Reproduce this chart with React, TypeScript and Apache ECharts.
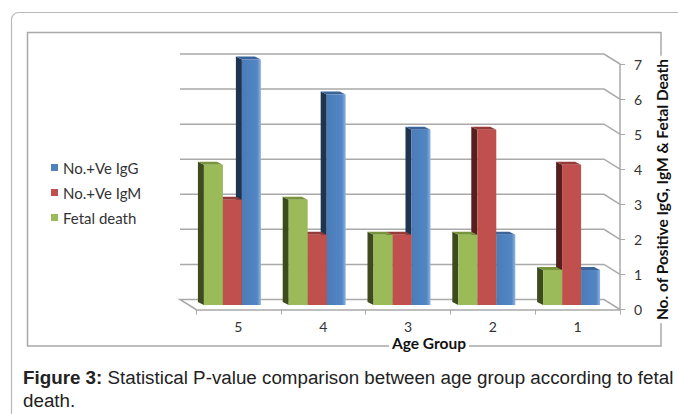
import React, { useEffect, useRef } from "react";
import * as echarts from "echarts";

const categories = ["5", "4", "3", "2", "1"];
const igG = [7, 6, 5, 2, 1];
const igM = [3, 2, 2, 5, 4];
const fetalDeath = [4, 3, 2, 2, 1];
const yTicks = [0, 1, 2, 3, 4, 5, 6, 7];
const seriesNames = ["No.+Ve IgG", "No.+Ve IgM", "Fetal death"];
const xTitle = "Age Group";
const yTitle = "No. of Positive IgG, IgM & Fetal Death";
const captionBold = "Figure 3:";
const captionLine1 = " Statistical P-value comparison between age group according to fetal";
const captionLine2 = "death.";

const BACK_DX = -16;
const BACK_DY = -10;
const BAR_DX = -6;
const BAR_DY = -4.5;
const SIDE_DX = -6;
const SIDE_DY = -3;
const FONT = "Lato, 'Open Sans', sans-serif";
const CAP_FONT = "'Liberation Sans', Arial, sans-serif";

function barRenderer(slot: number, front: any, side: string, top: string) {
  return (params: any, api: any) => {
    const ci = api.value(0);
    const v = api.value(1);
    const base = api.coord([ci, 0]);
    const tp = api.coord([ci, v]);
    const bw = api.size([1, 0])[0] * 0.224;
    const cx = base[0] + BAR_DX + slot * bw;
    const x0 = cx - bw / 2;
    const x1 = cx + bw / 2;
    const yb = base[1] + BAR_DY;
    const yt = tp[1] + BAR_DY;
    return {
      type: "group",
      children: [
        {
          type: "polygon",
          shape: { points: [[x0, yb], [x0 + SIDE_DX, yb + SIDE_DY], [x0 + SIDE_DX, yt + SIDE_DY], [x0, yt]] },
          style: { fill: side },
        },
        {
          type: "polygon",
          shape: { points: [[x0, yt], [x0 + SIDE_DX, yt + SIDE_DY], [x1 + SIDE_DX, yt + SIDE_DY], [x1, yt]] },
          style: { fill: top },
        },
        {
          type: "rect",
          shape: { x: x0, y: yt, width: bw, height: yb - yt },
          style: { fill: front },
        },
      ],
    };
  };
}

function gridRenderer(params: any, api: any) {
  const cs = params.coordSys;
  const t = api.value(1);
  const y = api.coord([0, t])[1];
  const x0 = cs.x;
  const x1 = cs.x + cs.width;
  const pts =
    t === 0
      ? [[x0, y], [x0 + BACK_DX, y + BACK_DY], [x1 + BACK_DX, y + BACK_DY], [x1, y]]
      : [[x0 + BACK_DX, y + BACK_DY], [x1 + BACK_DX, y + BACK_DY], [x1, y]];
  return {
    type: "polyline",
    shape: { points: pts },
    style: { stroke: "#a9a9a9", lineWidth: 1.5, fill: "none" },
  };
}

function grad(c1: string, c2: string, c3: string) {
  return new echarts.graphic.LinearGradient(0, 0, 1, 0, [
    { offset: 0, color: c1 },
    { offset: 0.8, color: c2 },
    { offset: 1, color: c3 },
  ]);
}

export default function App() {
  const ref = useRef<HTMLDivElement>(null);
  useEffect(() => {
    document.body.style.margin = "0";
    const chart = echarts.init(ref.current!, null, { renderer: "svg" });
    const option: any = {
      animation: false,
      backgroundColor: "#ffffff",
      grid: { left: 196, right: 58, top: 64, bottom: 104.5 },
      legend: {
        orient: "vertical",
        left: 46,
        top: 155,
        icon: "rect",
        itemWidth: 7,
        itemHeight: 7,
        itemGap: 10,
        data: seriesNames,
        textStyle: { fontFamily: FONT, fontSize: 15, color: "#333" },
      },
      xAxis: {
        type: "category",
        data: categories,
        axisLine: { lineStyle: { color: "#a9a9a9", width: 1.5 } },
        axisTick: { show: true, length: 5, lineStyle: { color: "#a9a9a9" } },
        axisLabel: { margin: 10, fontFamily: FONT, fontSize: 14, lineHeight: 14, color: "#333" },
        splitLine: { show: false },
      },
      yAxis: {
        type: "value",
        position: "right",
        min: 0,
        max: 7,
        interval: 1,
        axisLine: { show: true, lineStyle: { color: "#a9a9a9", width: 1.5 } },
        axisTick: { show: true, length: 5, lineStyle: { color: "#a9a9a9" } },
        axisLabel: { margin: 14, fontFamily: FONT, fontSize: 14, color: "#333" },
        splitLine: { show: false },
      },
      series: [
        {
          type: "custom",
          name: "grid",
          silent: true,
          z: 1,
          renderItem: gridRenderer,
          encode: { x: 0, y: 1 },
          data: yTicks.map((t) => [0, t]),
        },
        {
          type: "custom",
          name: seriesNames[0],
          z: 3,
          itemStyle: { color: "#4f81bd" },
          renderItem: barRenderer(1, grad("#4a7cb8", "#5286c4", "#8fb4e0"), "#1f3450", "#3a6498"),
          encode: { x: 0, y: 1 },
          data: igG.map((v, i) => [i, v]),
        },
        {
          type: "custom",
          name: seriesNames[1],
          z: 4,
          itemStyle: { color: "#c0504d" },
          renderItem: barRenderer(0, "#c0504d", "#541f1e", "#963a38"),
          encode: { x: 0, y: 1 },
          data: igM.map((v, i) => [i, v]),
        },
        {
          type: "custom",
          name: seriesNames[2],
          z: 5,
          itemStyle: { color: "#9bbb59" },
          renderItem: barRenderer(-1, "#9bbb59", "#3d4b1e", "#77933c"),
          encode: { x: 0, y: 1 },
          data: fetalDeath.map((v, i) => [i, v]),
        },
      ],
      graphic: [
        {
          type: "rect",
          z: 0,
          shape: { x: 11.5, y: 12.5, width: 720, height: 500, r: 7 },
          style: { fill: "none", stroke: "#b8b8b8", lineWidth: 1.2 },
        },
        {
          type: "rect",
          z: 0,
          shape: { x: 27.5, y: 32.5, width: 633.5, height: 313.5 },
          style: { fill: "none", stroke: "#a9a9a9", lineWidth: 1.5 },
        },
        {
          type: "text",
          z: 10,
          x: 429,
          y: 343,
          style: {
            text: xTitle,
            fontFamily: FONT,
            fontWeight: "bold",
            fontSize: 15.5,
            lineHeight: 16,
            fill: "#111",
            align: "center",
            verticalAlign: "middle",
            backgroundColor: "#fff",
            padding: [0, 3],
          },
        },
        {
          type: "text",
          z: 10,
          x: 661.5,
          y: 189.5,
          rotation: Math.PI / 2,
          style: {
            text: yTitle,
            fontFamily: FONT,
            fontWeight: "bold",
            fontSize: 15.5,
            fill: "#111",
            align: "center",
            verticalAlign: "middle",
            backgroundColor: "#fff",
            padding: [0, 3],
          },
        },
        {
          type: "text",
          z: 10,
          x: 23,
          y: 377,
          style: {
            text: "{b|" + captionBold + "}" + captionLine1,
            fontFamily: CAP_FONT,
            fontSize: 18.8,
            fill: "#222",
            verticalAlign: "middle",
            rich: {
              b: { fontFamily: CAP_FONT, fontSize: 18.8, fontWeight: "bold", fill: "#222" },
            },
          },
        },
        {
          type: "text",
          z: 10,
          x: 23,
          y: 400,
          style: {
            text: captionLine2,
            fontFamily: CAP_FONT,
            fontSize: 18.8,
            fill: "#222",
            verticalAlign: "middle",
          },
        },
      ],
    };
    chart.setOption(option);
    return () => chart.dispose();
  }, []);
  return <div ref={ref} style={{ width: 678, height: 414 }} />;
}
